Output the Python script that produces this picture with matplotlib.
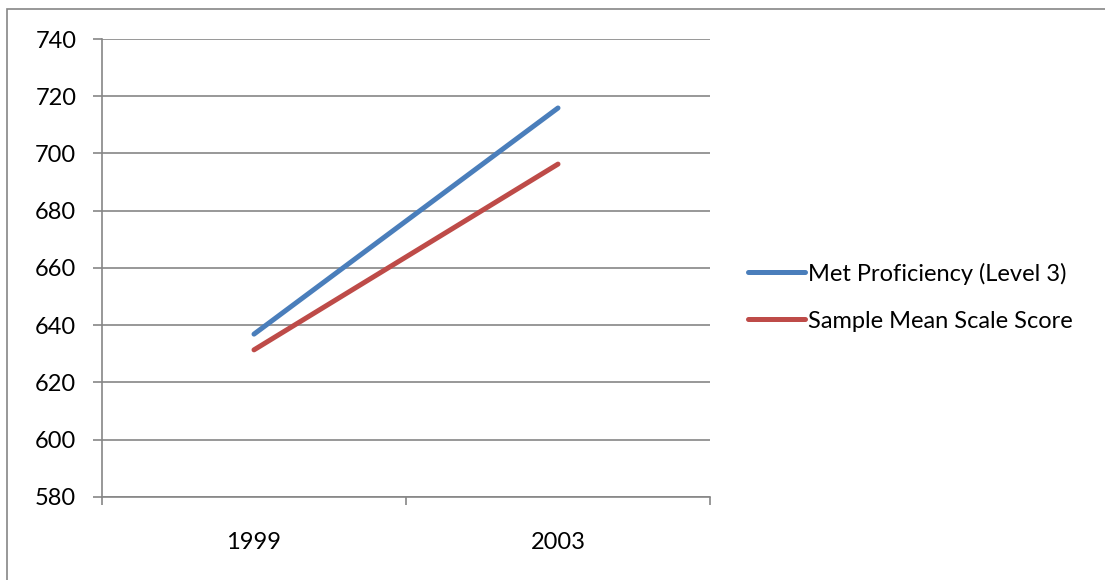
import matplotlib
matplotlib.use("Agg")
import matplotlib.pyplot as plt
from matplotlib.patches import Rectangle

# chart values
years = ["1999", "2003"]
met_proficiency = [636.9, 715.9]
sample_mean = [631.4, 696.3]
series_names = ["Met Proficiency (Level 3)", "Sample Mean Scale Score"]
y_ticks = [580, 600, 620, 640, 660, 680, 700, 720, 740]

W, H = 1105, 580
FS = 17
plt.rcParams['font.family'] = ['Lato', 'DejaVu Sans']

fig = plt.figure(figsize=(W / 100, H / 100), dpi=100)
fig.patch.set_facecolor('white')

# outer chart border (only top/left visible in the crop)
fig.add_artist(Rectangle((7 / W, -0.1), 1.2, 1 - 9 / H + 0.1, transform=fig.transFigure,
                         fill=False, edgecolor='#868686', linewidth=1.2))

ax = fig.add_axes([102 / W, 1 - 497 / H, 608 / W, 458 / H])
x = list(range(len(years)))
ax.plot(x, met_proficiency, color='#4A7EBB', linewidth=3.6, solid_capstyle='round',
        label=series_names[0])
ax.plot(x, sample_mean, color='#BE4B48', linewidth=3.6, solid_capstyle='round',
        label=series_names[1])

ax.set_xlim(-0.5, len(years) - 0.5)
ax.set_ylim(580, 740)
ax.set_yticks(y_ticks)
ax.set_yticklabels([str(v) for v in y_ticks], fontsize=FS)
ax.grid(axis='y', color='#868686', linewidth=1.2)
ax.set_axisbelow(True)

# category labels centred, tick marks on the category boundaries
ax.set_xticks(x)
ax.set_xticklabels(years, fontsize=FS)
ax.tick_params(axis='x', which='major', length=0, pad=25)
ax.set_xticks([i - 0.5 for i in range(len(years) + 1)], minor=True)
ax.tick_params(axis='x', which='minor', length=6, color='#868686', width=1.2)
ax.tick_params(axis='y', length=6.5, color='#868686', width=1.2, pad=12)

for side in ['top', 'right']:
    ax.spines[side].set_visible(False)
for side in ['left', 'bottom']:
    ax.spines[side].set_color('#868686')
    ax.spines[side].set_linewidth(1.2)

ax.legend(loc='center left', bbox_to_anchor=(748 / W, 1 - 297 / H), bbox_transform=fig.transFigure,
          frameon=False, fontsize=FS, handlelength=2.4, handletextpad=0.15,
          labelspacing=1.1, borderaxespad=0, borderpad=0)

fig.savefig("out.png", dpi=100, facecolor='white')
